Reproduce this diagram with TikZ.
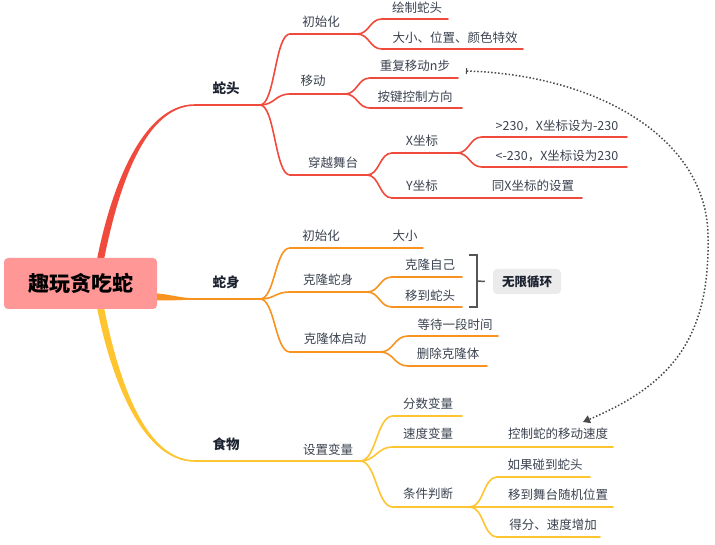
\documentclass[tikz,border=0pt]{standalone}
\usepackage{fontspec}
\setmainfont{Noto Sans CJK SC}
\usetikzlibrary{calc,arrows.meta}
\definecolor{cred}{HTML}{F04A3C}
\definecolor{corg}{HTML}{F7931E}
\definecolor{cyel}{HTML}{FFC530}
\definecolor{ctxt}{HTML}{3B4350}
\definecolor{cdark}{HTML}{1C2230}
\definecolor{croot}{HTML}{FF9797}
\definecolor{cgray}{HTML}{555555}
\definecolor{cdot}{HTML}{4A4A4A}
\definecolor{cbox}{HTML}{EBEBEB}
% name, sx, ex, y, tx, ty, colour, text, text style
\newcommand\mmitem[9]{%
  \coordinate (#1-s) at (#2,#4);
  \coordinate (#1-e) at (#3,#4);
  \node[#9] (#1) at (#5,#6) {#8};
  \draw[mmline,#7] (#1-s) -- (#1-e);}
\newcommand\mmlink[3]{%
  \draw[mmline,#1] (#2) .. controls ($(#2)!0.5!(#3 |- #2)$) and ($(#3)!0.5!(#2 |- #3)$) .. (#3);}
\begin{document}
\begin{tikzpicture}[x=1pt,y=-1pt,
  txt/.style={text=ctxt,font=\fontsize{12.5}{14}\selectfont,inner sep=0pt},
  lvl/.style={text=cdark,font=\fontsize{13.5}{15}\selectfont\bfseries,inner sep=0pt},
  mmline/.style={line width=1.6pt,line cap=round}]
\useasboundingbox (0,0) rectangle (715,545);

% thick main branches
\fill[cred] (96.5,262) .. controls (108.5,199) and (139,104.2) .. (195,104.2)
  -- (195,105.8) .. controls (141,105.8) and (115.5,201) .. (103.5,262) -- cycle;
\fill[cyel] (96.5,305) .. controls (108.5,368) and (139,461.8) .. (195,461.8)
  -- (195,460.2) .. controls (141,460.2) and (115.5,366) .. (103.5,305) -- cycle;
\fill[corg] (150,293) .. controls (172,294) and (178,298.2) .. (196,298.2)
  -- (196,299.8) .. controls (178,299.8) and (172,301) .. (150,300) -- cycle;

\node[fill=croot, rounded corners=4pt, minimum width=153pt, minimum height=51pt,
  inner sep=0pt, font=\fontsize{21}{24}\selectfont\bfseries, text=black] (root) at (80.5,283.5) {趣玩贪吃蛇};

% ---------- 蛇头 ----------
\mmitem{L1}{195}{260}{105}{226}{88}{cred}{蛇头}{lvl}
\mmitem{h1}{290}{357}{34}{321}{22}{cred}{初始化}{txt}
\mmitem{h2}{290}{345}{94}{313}{81}{cred}{移动}{txt}
\mmitem{h3}{290}{367}{175}{333}{163}{cred}{穿越舞台}{txt}
\mmitem{h11}{382}{448}{19}{417}{8}{cred}{绘制蛇头}{txt}
\mmitem{h12}{382}{523}{49}{455}{38}{cred}{大小、位置、颜色特效}{txt}
\mmitem{h21}{370}{458}{78}{415}{66}{cred}{重复移动n步}{txt}
\mmitem{h22}{370}{462}{108}{415}{97}{cred}{按键控制方向}{txt}
\mmitem{h31}{392}{457}{153}{422}{141}{cred}{X坐标}{txt}
\mmitem{h32}{392}{457}{198}{422}{186}{cred}{Y坐标}{txt}
\mmitem{h311}{482}{627}{137}{557}{126}{cred}{>230，X坐标设为-230}{txt}
\mmitem{h312}{482}{627}{167}{557}{156}{cred}{<-230，X坐标设为230}{txt}
\mmitem{h321}{457}{582}{198}{533}{186}{cred}{同X坐标的设置}{txt}
\mmlink{cred}{L1-e}{h1-s}
\mmlink{cred}{L1-e}{h2-s}
\mmlink{cred}{L1-e}{h3-s}
\mmlink{cred}{h1-e}{h11-s}
\mmlink{cred}{h1-e}{h12-s}
\mmlink{cred}{h2-e}{h21-s}
\mmlink{cred}{h2-e}{h22-s}
\mmlink{cred}{h3-e}{h31-s}
\mmlink{cred}{h3-e}{h32-s}
\mmlink{cred}{h31-e}{h311-s}
\mmlink{cred}{h31-e}{h312-s}

% ---------- 蛇身 ----------
\mmitem{L2}{196}{260}{299}{226}{282}{corg}{蛇身}{lvl}
\mmitem{b1}{290}{345}{248}{321}{236}{corg}{初始化}{txt}
\mmitem{b2}{290}{367}{292}{328}{280}{corg}{克隆蛇身}{txt}
\mmitem{b3}{290}{380}{352}{335}{339}{corg}{克隆体启动}{txt}
\mmitem{b11}{345}{423}{248}{405}{236}{corg}{大小}{txt}
\mmitem{b21}{392}{462}{277}{430}{265}{corg}{克隆自己}{txt}
\mmitem{b22}{392}{462}{307}{430}{296}{corg}{移到蛇头}{txt}
\mmitem{b31}{408}{498}{336}{455}{325}{corg}{等待一段时间}{txt}
\mmitem{b32}{408}{487}{366}{448}{354}{corg}{删除克隆体}{txt}
\mmlink{corg}{L2-e}{b1-s}
\mmlink{corg}{L2-e}{b2-s}
\mmlink{corg}{L2-e}{b3-s}
\mmlink{corg}{b2-e}{b21-s}
\mmlink{corg}{b2-e}{b22-s}
\mmlink{corg}{b3-e}{b31-s}
\mmlink{corg}{b3-e}{b32-s}

% bracket + summary
\coordinate (brT) at (469,255);
\coordinate (brB) at (469,307);
\coordinate (brM) at (477,281);
\node[fill=cbox, rounded corners=4pt, minimum width=68pt, minimum height=25pt, inner sep=0pt,
  text=cdark, font=\fontsize{12.5}{14}\selectfont\bfseries] (loop) at (527,281.5) {无限循环};
\draw[cgray,line width=1.5pt] (brT) -- (brT -| brM) -- (brB -| brM) -- (brB);
\draw[cgray,line width=1.5pt] (brM) -- ($(loop.west)+(-8,0)$);

% ---------- 食物 ----------
\mmitem{L3}{195}{260}{461}{226}{444}{cyel}{食物}{lvl}
\mmitem{f1}{260}{360}{461}{328}{450}{cyel}{设置变量}{txt}
\mmitem{f11}{393}{462}{416}{428}{404}{cyel}{分数变量}{txt}
\mmitem{f12}{393}{470}{447}{428}{434}{cyel}{速度变量}{txt}
\mmitem{f13}{393}{470}{507}{428}{494}{cyel}{条件判断}{txt}
\mmitem{f121}{470}{613}{447}{558}{434}{cyel}{控制蛇的移动速度}{txt}
\mmitem{f131}{497}{590}{477}{545}{465}{cyel}{如果碰到蛇头}{txt}
\mmitem{f132}{497}{613}{507}{558}{495}{cyel}{移到舞台随机位置}{txt}
\mmitem{f133}{497}{600}{537}{553}{525}{cyel}{得分、速度增加}{txt}
\mmlink{cyel}{f1-e}{f11-s}
\mmlink{cyel}{f1-e}{f12-s}
\mmlink{cyel}{f1-e}{f13-s}
\mmlink{cyel}{f13-e}{f131-s}
\mmlink{cyel}{f13-e}{f132-s}
\mmlink{cyel}{f13-e}{f133-s}

% dotted relation
\coordinate (arrS) at (466,71);
\coordinate (arrE) at (583,422);
\draw[cdot, line width=1.5pt, dash pattern=on 1.5pt off 2pt,
  {Bar[width=6pt,line width=1pt,sep=0pt]}-{Triangle[width=8pt,length=7pt]}]
  (arrS) .. controls (600,75) and (708,140) .. (708,237)
  .. controls (710,340) and (670,385) .. (arrE);
\end{tikzpicture}
\end{document}
